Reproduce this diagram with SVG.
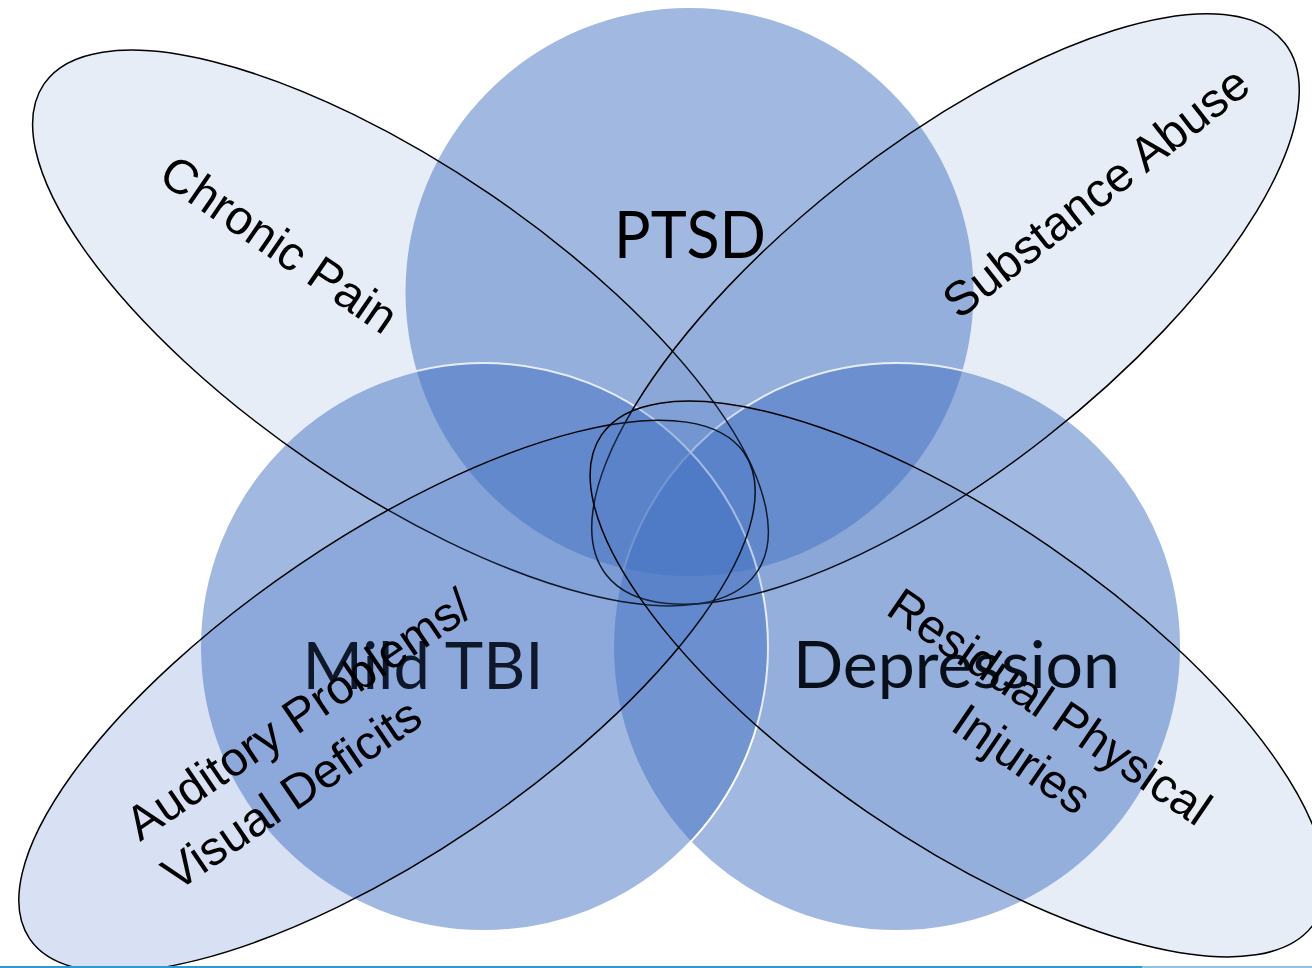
<svg xmlns="http://www.w3.org/2000/svg" width="1312" height="968" viewBox="0 0 1312 968">
  <style>
    .circ { fill: #4472C4; fill-opacity: 0.5; }
    .circ-stroke { stroke: #FFFFFF; stroke-width: 2; }
    .ell { fill: #4472C4; fill-opacity: 0.13; stroke: #000000; stroke-width: 1.5; }
    .ell-dark { fill-opacity: 0.21; }
    .big { font-family: Lato, "Open Sans", "Liberation Sans", sans-serif; font-size: 65px; fill: #000000; }
    .lbl { font-family: "Liberation Sans", Arial, sans-serif; font-size: 48px; fill: #000000; }
  </style>
  <rect x="0" y="0" width="1312" height="968" fill="#FFFFFF"/>

  <g id="ptsd">
    <circle class="circ" cx="689.5" cy="292" r="284"/>
    <text class="big" x="690" y="258" text-anchor="middle" textLength="152" lengthAdjust="spacingAndGlyphs">PTSD</text>
  </g>
  <g id="depression">
    <circle class="circ circ-stroke" cx="897" cy="647" r="284"/>
    <text class="big" x="956.5" y="688" text-anchor="middle" textLength="327" lengthAdjust="spacingAndGlyphs">Depression</text>
  </g>
  <g id="mild-tbi">
    <circle class="circ circ-stroke" cx="484" cy="647" r="284"/>
    <text class="big" x="423" y="689" text-anchor="middle" textLength="241" lengthAdjust="spacingAndGlyphs">Mild TBI</text>
  </g>

  <g id="chronic-pain">
    <ellipse class="ell" cx="400.5" cy="328" rx="432" ry="161" transform="rotate(34.4 400.5 328)"/>
    <text class="lbl" transform="translate(270 258) rotate(34.4)" text-anchor="middle">Chronic Pain</text>
  </g>
  <g id="substance-abuse">
    <ellipse class="ell" cx="945.5" cy="309" rx="431" ry="163" transform="rotate(-38.1 945.5 309)"/>
    <text class="lbl" transform="translate(1106 205) rotate(-38.1)" text-anchor="middle">Substance Abuse</text>
  </g>
  <g id="auditory-visual">
    <ellipse class="ell ell-dark" cx="387" cy="696" rx="432" ry="158" transform="rotate(-34.2 387 696)"/>
    <text class="lbl" transform="translate(140 842) rotate(-34.2)">
      <tspan x="0" y="0">Auditory Problems/</tspan>
      <tspan x="2" y="62">Visual Deficits</tspan>
    </text>
  </g>
  <g id="residual-physical">
    <ellipse class="ell" cx="958" cy="679" rx="432" ry="161" transform="rotate(34.4 958 679)"/>
    <text class="lbl" transform="translate(1046 724) rotate(34.4)" text-anchor="middle">
      <tspan x="0" y="0">Residual Physical</tspan>
      <tspan x="0" y="59">Injuries</tspan>
    </text>
  </g>

  <g id="connectors"></g>

  <rect x="0" y="966" width="1142" height="2" fill="#2E9AD3"/>
  <rect x="1142" y="966" width="170" height="2" fill="#8CC4E6"/>
</svg>
